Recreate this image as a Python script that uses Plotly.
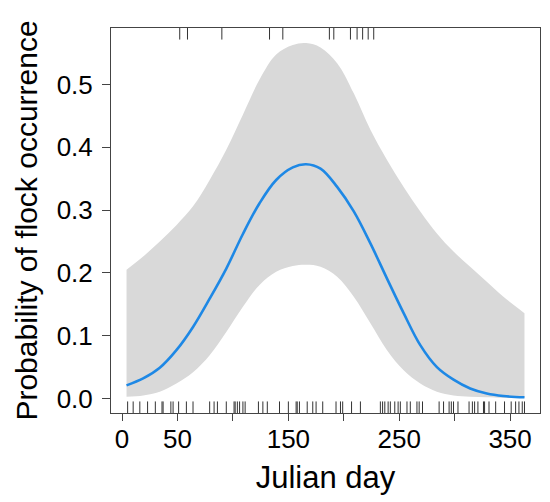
import plotly.graph_objects as go

# Smoothed curve
days = [4, 19, 34, 49, 64, 79, 94, 109, 124, 139, 154, 166, 179, 194, 209, 224,
        239, 254, 269, 284, 299, 314, 329, 344, 363]
prob = [0.021, 0.032, 0.049, 0.077, 0.114, 0.159, 0.207, 0.262, 0.311, 0.348,
        0.368, 0.373, 0.366, 0.337, 0.298, 0.247, 0.191, 0.136, 0.085, 0.050,
        0.030, 0.016, 0.008, 0.004, 0.002]
upper = [0.205, 0.226, 0.250, 0.276, 0.306, 0.348, 0.396, 0.452, 0.508, 0.548,
         0.563, 0.566, 0.559, 0.534, 0.486, 0.428, 0.380, 0.337, 0.298, 0.263,
         0.234, 0.210, 0.186, 0.162, 0.136]
lower = [0.003, 0.005, 0.011, 0.024, 0.042, 0.069, 0.106, 0.146, 0.181, 0.202,
         0.211, 0.213, 0.210, 0.194, 0.162, 0.120, 0.077, 0.045, 0.024, 0.011,
         0.005, 0.003, 0.002, 0.001, 0.001]

# Rug: days with flock occurrence (top) and without (bottom)
rug_top = [52, 59, 90, 133, 145, 187, 191, 206, 212, 217, 222, 227]
rug_bottom = [5, 10, 16, 23, 30, 36, 37, 44, 46, 51, 58, 64, 79, 83, 86, 94,
              101, 102, 104, 106, 109, 111, 123, 127, 131, 142, 150, 157, 158,
              160, 167, 172, 175, 181, 193, 197, 199, 207, 215, 233, 235, 237,
              240, 242, 246, 249, 251, 257, 260, 266, 268, 271, 286, 290, 295,
              297, 299, 303, 313, 316, 318, 321, 326, 327, 331, 337, 345, 351,
              355, 358, 361, 363]

x_ticks = [0, 50, 100, 150, 200, 250, 300, 350]
x_ticktext = ["0", "50", "", "150", "", "250", "", "350"]
y_ticks = [0.0, 0.1, 0.2, 0.3, 0.4, 0.5]
y_ticktext = ["0.0", "0.1", "0.2", "0.3", "0.4", "0.5"]

FONT = "Liberation Sans, Arial, sans-serif"
AXC = "#444444"

fig = go.Figure()
fig.add_trace(go.Scatter(x=days, y=lower, mode="lines", line=dict(width=0, shape="spline"),
                         hoverinfo="skip", showlegend=False))
fig.add_trace(go.Scatter(x=days, y=upper, mode="lines", line=dict(width=0, shape="spline"),
                         fill="tonexty", fillcolor="#d9d9d9", hoverinfo="skip", showlegend=False))
fig.add_trace(go.Scatter(x=days, y=prob, mode="lines",
                         line=dict(color="#1E88E5", width=2.6, shape="spline"), showlegend=False))

shapes = []
for d in rug_bottom:
    shapes.append(dict(type="line", xref="x", yref="y domain", x0=d, x1=d, y0=0, y1=0.03,
                       line=dict(color="#333333", width=1)))
for d in rug_top:
    shapes.append(dict(type="line", xref="x", yref="y domain", x0=d, x1=d, y0=0.97, y1=1,
                       line=dict(color="#333333", width=1)))

fig.update_layout(
    width=542, height=494,
    margin=dict(l=103, r=10, t=20, b=89),
    paper_bgcolor="white", plot_bgcolor="white",
    font=dict(family=FONT, color="black"),
    shapes=shapes,
    xaxis=dict(range=[-10, 377], tickmode="array", tickvals=x_ticks, ticktext=x_ticktext,
               ticks="outside", ticklen=7, tickcolor=AXC, tickwidth=1,
               showline=True, linecolor=AXC, linewidth=1, mirror=True, automargin=False,
               showgrid=False, zeroline=False, tickfont=dict(size=26),
               ticklabelstandoff=-4,
               title=dict(text="Julian day", font=dict(size=31), standoff=13)),
    yaxis=dict(range=[-0.023, 0.590], tickmode="array", tickvals=y_ticks, ticktext=y_ticktext,
               ticks="outside", ticklen=8, tickcolor=AXC, tickwidth=1,
               showline=True, linecolor=AXC, linewidth=1, mirror=True, automargin=False,
               showgrid=False, zeroline=False, tickfont=dict(size=26),
               ticklabelstandoff=4,
               title=dict(text="Probability of flock occurrence", font=dict(size=30), standoff=10)),
)

fig.write_html("out.html")
